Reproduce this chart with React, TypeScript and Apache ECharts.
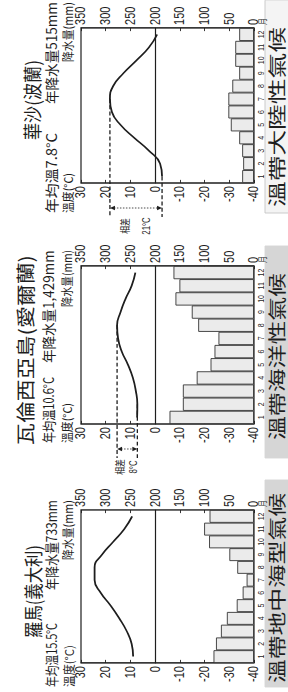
import React, { useEffect, useRef } from 'react';
import * as echarts from 'echarts';

// ---------- data ----------
const months = ['1', '2', '3', '4', '5', '6', '7', '8', '9', '10', '11', '12'];
const cityNames = ['羅馬(義大利)', '瓦倫西亞島(愛爾蘭)', '華沙(波蘭)'];
const annualTemp = ['15.5', '10.6', '7.8'];
const annualRain = ['733', '1,429', '515'];
const climateTypes = ['溫帶地中海型氣候', '溫帶海洋性氣候', '溫帶大陸性氣候'];

const romeTemp = [8.9, 9.5, 11.5, 14.5, 18, 22, 24.5, 24.5, 21.5, 17, 12.5, 9.3];
const romeRain = [82, 77, 67, 55, 35, 23, 15, 34, 50, 91, 101, 90];
const valentiaTemp = [7.3, 7.2, 7.8, 9, 11, 13.5, 15, 15.4, 14, 12, 9.5, 8];
const valentiaRain = [171, 144, 144, 116, 88, 80, 72, 113, 126, 159, 151, 163];
const warsawTemp = [-2.8, -2, 2.5, 8.5, 14, 17.5, 18.3, 17, 12.8, 7.5, 2.5, -0.8];
const warsawRain = [24, 22, 24, 30, 47, 52, 52, 44, 30, 38, 38, 30];

const temps = [romeTemp, valentiaTemp, warsawTemp];
const rains = [romeRain, valentiaRain, warsawRain];
const showRange = [false, true, true];

// ---------- layout (original, unrotated pixel space) ----------
const W = 692;
const H = 288;
const S = 0.78; // horizontal condensing of the printed figure
const X = (v: number) => v / S;
const CW = W / S;

const gridLeft = [29, 268, 509];
const gridWidth = [153, 158, 155];
const gridTop = 81;
const gridHeight = 173;

// text boxes: [x0, x1, yCenter, fontSize]
const titleBox = [[54, 147, 32, 19], [247, 437, 25, 19], [552, 632, 32, 19]];
const subLeftBox = [[5, 69, 51, 14], [249, 315, 48, 14], [479, 559, 51, 14]];
const subRightBox = [[102, 192, 51, 14], [329, 442, 48, 14], [588, 690, 51, 14]];
const nameLeftBox = [[5, 47, 68, 12], [249, 289, 67, 12], [479, 519, 68, 12]];
const nameRightBox = [[132, 192, 68, 12], [385, 442, 67, 12], [630, 690, 68, 12]];
const climBox = [[5, 212], [234, 446], [479, 692]];
const climText = [[9, 199], [252, 419], [485, 665]];

const CJK = "'Noto Sans CJK TC', 'Noto Sans CJK SC', sans-serif";
const LATIN = "'Liberation Sans', Arial, sans-serif";
const INK = '#1e1e1e';

let measureCtx: CanvasRenderingContext2D | null = null;
function measure(text: string, size: number, family: string) {
  if (!measureCtx) measureCtx = document.createElement('canvas').getContext('2d');
  if (!measureCtx) return text.length * size;
  measureCtx.font = `${size}px ${family}`;
  return measureCtx.measureText(text).width;
}

function fitText(x0: number, x1: number, yc: number, text: string, size: number, family = CJK) {
  const w = measure(text, size, family);
  const sx = (X(x1) - X(x0)) / w;
  return {
    type: 'text',
    x: X(x0),
    y: yc,
    scaleX: sx,
    z: 10,
    style: {
      x: 0,
      y: 0,
      text,
      fontSize: size,
      fontFamily: family,
      fill: INK,
      textAlign: 'left',
      align: 'left',
      textVerticalAlign: 'middle',
      verticalAlign: 'middle',
    },
  };
}

function txt(x: number, y: number, text: string, size: number, align: string, family = CJK) {
  return {
    type: 'text',
    x,
    y,
    z: 10,
    style: {
      x: 0,
      y: 0,
      text,
      fontSize: size,
      fontFamily: family,
      fill: INK,
      textAlign: align,
      align,
      textVerticalAlign: 'middle',
      verticalAlign: 'middle',
    },
  };
}

function buildOption() {
  const grids: any[] = [];
  const xAxes: any[] = [];
  const yAxes: any[] = [];
  const series: any[] = [];
  for (let i = 0; i < 3; i++) {
    grids.push({
      left: X(gridLeft[i]),
      top: gridTop,
      width: X(gridWidth[i]),
      height: gridHeight,
      show: true,
      borderColor: INK,
      borderWidth: 1.2,
      backgroundColor: 'transparent',
    });
    xAxes.push({
      type: 'category',
      gridIndex: i,
      data: months,
      boundaryGap: true,
      axisLine: { show: true, lineStyle: { color: INK, width: 1.2 } },
      axisTick: { show: false },
      axisLabel: { interval: 0, fontSize: 9, margin: 3, color: INK, fontFamily: LATIN },
      splitLine: { show: false },
    });
    yAxes.push({
      type: 'value',
      gridIndex: i,
      position: 'left',
      min: -40,
      max: 30,
      interval: 10,
      axisLine: { show: true, lineStyle: { color: INK, width: 1.2 } },
      axisTick: { show: true, inside: true, length: 4, lineStyle: { color: INK } },
      axisLabel: { fontSize: 14, margin: 4, color: INK, fontFamily: LATIN },
      splitLine: { show: false },
    });
    yAxes.push({
      type: 'value',
      gridIndex: i,
      position: 'right',
      min: 0,
      max: 350,
      interval: 50,
      axisLine: { show: true, lineStyle: { color: INK, width: 1.2 } },
      axisTick: { show: true, inside: true, length: 4, lineStyle: { color: INK } },
      axisLabel: { fontSize: 14, margin: 4, color: INK, fontFamily: LATIN },
      splitLine: { show: false },
    });
    series.push({
      type: 'bar',
      xAxisIndex: i,
      yAxisIndex: 2 * i + 1,
      data: rains[i],
      barCategoryGap: '0%',
      itemStyle: { color: '#ebebeb', borderColor: '#333', borderWidth: 1 },
      z: 2,
    });
    series.push({
      type: 'line',
      xAxisIndex: i,
      yAxisIndex: 2 * i,
      data: temps[i],
      smooth: true,
      symbol: 'none',
      lineStyle: { color: INK, width: 1.8 },
      z: 3,
    });
  }
  return {
    animation: false,
    backgroundColor: '#fff',
    grid: grids,
    xAxis: xAxes,
    yAxis: yAxes,
    series,
  };
}

function buildGraphics(chart: any) {
  const g: any[] = [];
  for (let i = 0; i < 3; i++) {
    const L = gridLeft[i];
    const R = L + gridWidth[i];
    const tb = titleBox[i];
    g.push(fitText(tb[0], tb[1], tb[2], cityNames[i], tb[3]));
    const sl = subLeftBox[i];
    g.push(fitText(sl[0], sl[1], sl[2], `年均溫${annualTemp[i]}°C`, sl[3]));
    const sr = subRightBox[i];
    g.push(fitText(sr[0], sr[1], sr[2], `年降水量${annualRain[i]}mm`, sr[3]));
    const nl = nameLeftBox[i];
    g.push(fitText(nl[0], nl[1], nl[2], '溫度(°C)', nl[3]));
    const nr = nameRightBox[i];
    g.push(fitText(nr[0], nr[1], nr[2], '降水量(mm)', nr[3]));
    g.push(txt(X(R + 3), gridTop + gridHeight + 8, '月', 9, 'left'));

    // climate type box
    const cb = climBox[i];
    const boxFill = i === 2 ? '#f4f4f4' : '#d6d6d6';
    const boxStroke = i === 2 ? '#c4c4c4' : '#d6d6d6';
    g.push({
      type: 'rect',
      shape: { x: X(cb[0]), y: 265, width: X(cb[1]) - X(cb[0]), height: 30 },
      style: { fill: boxFill, stroke: boxStroke, lineWidth: 1 },
      z: 1,
    });
    const ct = climText[i];
    g.push(fitText(ct[0], ct[1], 276, climateTypes[i], 18));

    if (showRange[i]) {
      const t = temps[i];
      let maxI = 0;
      let minI = 0;
      t.forEach((v, k) => {
        if (v > t[maxI]) maxI = k;
        if (v < t[minI]) minI = k;
      });
      const pMax = chart.convertToPixel({ xAxisIndex: i, yAxisIndex: 2 * i }, [maxI, t[maxI]]);
      const pMin = chart.convertToPixel({ xAxisIndex: i, yAxisIndex: 2 * i }, [minI, t[minI]]);
      const endX = X(L - 34);
      const bx = X(L - 25);
      const aw = X(2.2);
      const dash = { stroke: INK, lineWidth: 1.3, lineDash: [5, 3] };
      g.push({ type: 'line', shape: { x1: pMax[0], y1: pMax[1], x2: endX, y2: pMax[1] }, style: dash, z: 5 });
      g.push({ type: 'line', shape: { x1: pMin[0], y1: pMin[1], x2: endX, y2: pMin[1] }, style: dash, z: 5 });
      g.push({
        type: 'line',
        shape: { x1: bx, y1: pMax[1] + 4, x2: bx, y2: pMin[1] - 4 },
        style: { stroke: INK, lineWidth: 0.9, lineDash: [1.5, 1.5] },
        z: 5,
      });
      g.push({
        type: 'polygon',
        shape: { points: [[bx, pMax[1]], [bx - aw, pMax[1] + 5], [bx + aw, pMax[1] + 5]] },
        style: { fill: INK },
        z: 5,
      });
      g.push({
        type: 'polygon',
        shape: { points: [[bx, pMin[1]], [bx - aw, pMin[1] - 5], [bx + aw, pMin[1] - 5]] },
        style: { fill: INK },
        z: 5,
      });
      const diff = Math.round(t[maxI] - t[minI]);
      const mid = (pMax[1] + pMin[1]) / 2;
      const d = Math.min(11, (pMin[1] - pMax[1]) / 3);
      g.push(txt(X(L - 43), mid - d, '相差', 10, 'center'));
      g.push(txt(X(L - 43), mid + d, `${diff}°C`, 10, 'center', LATIN));
    }
  }
  return g;
}

export default function App() {
  const ref = useRef<HTMLDivElement>(null);
  useEffect(() => {
    if (!ref.current) return;
    const chart = echarts.init(ref.current, null, { renderer: 'svg', width: CW, height: H });
    chart.setOption(buildOption());
    chart.setOption({ graphic: buildGraphics(chart) });
    return () => chart.dispose();
  }, []);
  return (
    <div
      style={{
        position: 'fixed',
        left: 0,
        top: 0,
        width: H,
        height: W,
        overflow: 'hidden',
        background: '#fff',
      }}
    >
      <div
        ref={ref}
        style={{
          position: 'absolute',
          left: 0,
          top: 0,
          width: CW,
          height: H,
          transformOrigin: '0 0',
          transform: `translate(0px, ${W}px) rotate(-90deg) scale(${S}, 1)`,
        }}
      />
    </div>
  );
}
